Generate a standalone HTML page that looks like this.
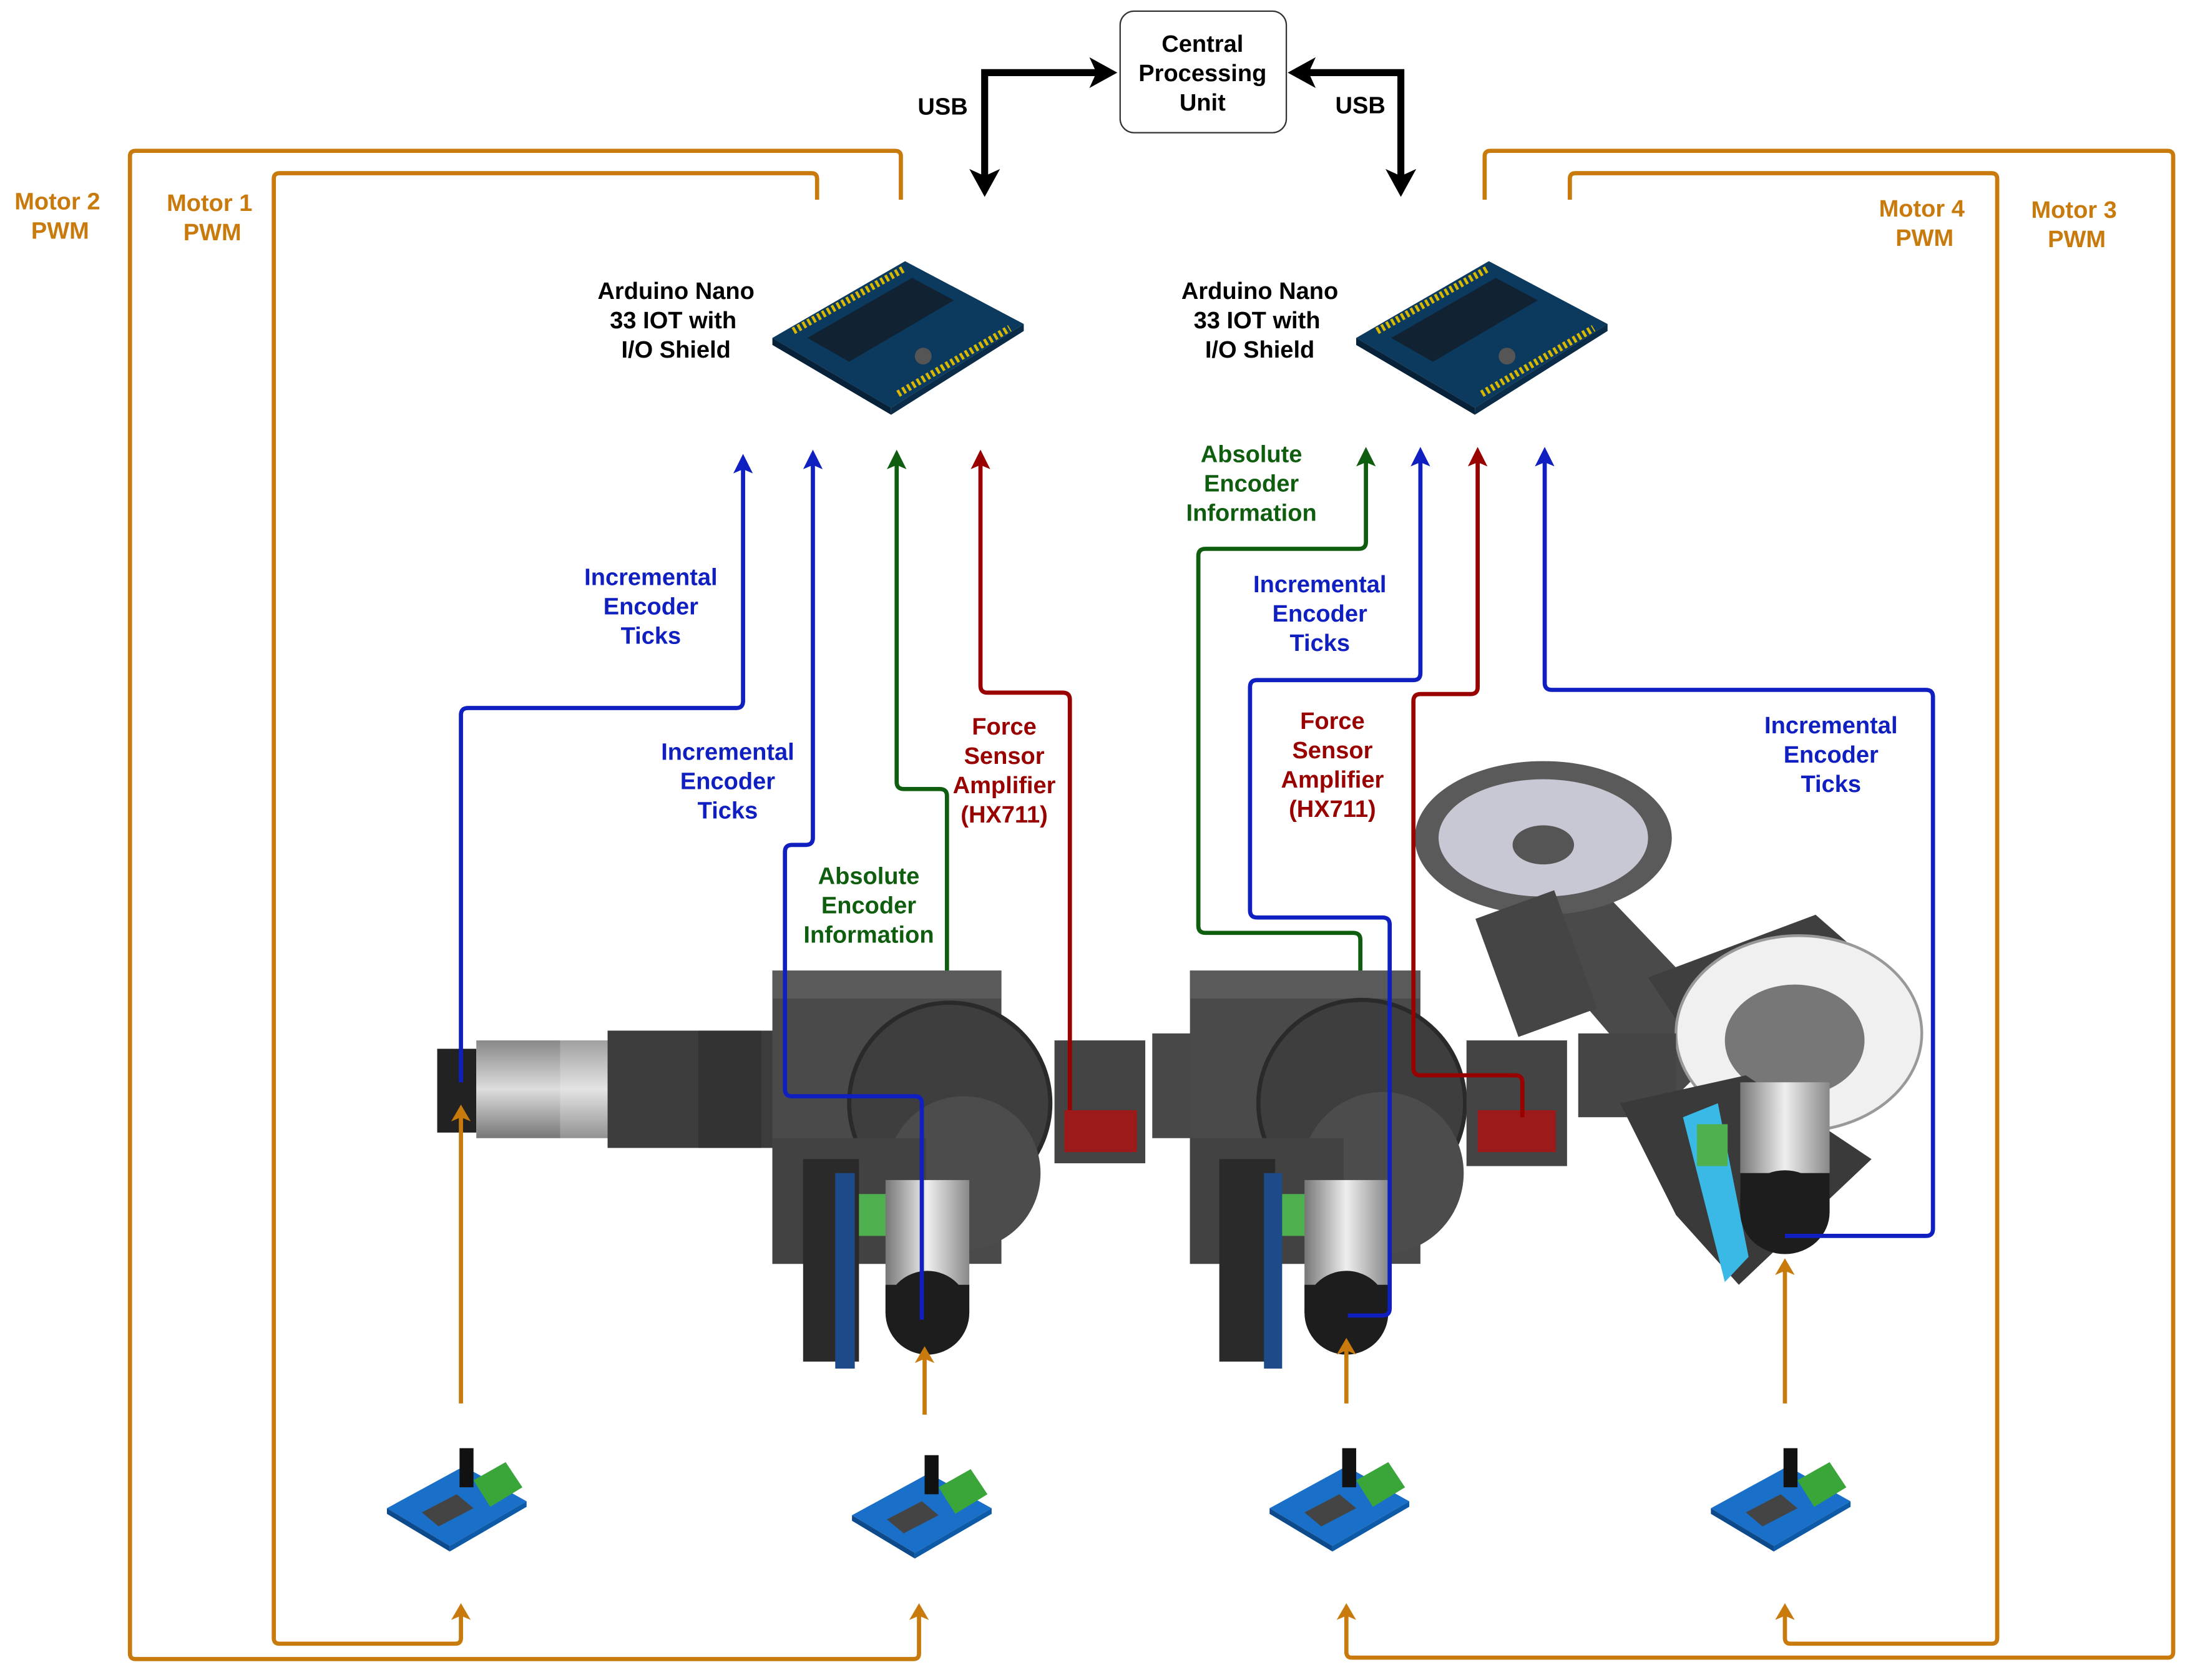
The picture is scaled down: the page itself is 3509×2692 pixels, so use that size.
<!DOCTYPE html>
<html><head><meta charset="utf-8"><style>
html,body{margin:0;padding:0;background:#fff;}
svg{display:block;}
text{font-family:"Liberation Sans",sans-serif;font-weight:bold;font-size:17px;text-anchor:middle;}
</style></head><body>
<svg width="3509" height="2692" viewBox="0 0 1568 1203" xmlns="http://www.w3.org/2000/svg">
<defs>
<marker id="ao" markerWidth="12" markerHeight="14" refX="8" refY="7" orient="auto" markerUnits="userSpaceOnUse" viewBox="0 0 12 14"><path d="M0,0 L12,7 L0,14 L3,7z" fill="#c97a0c"/></marker>
<marker id="ab" markerWidth="14" markerHeight="14" refX="9" refY="7" orient="auto" markerUnits="userSpaceOnUse" viewBox="0 0 14 14"><path d="M0,0 L14,7 L0,14 L3,7z" fill="#1020c0"/></marker>
<marker id="ag" markerWidth="14" markerHeight="14" refX="9" refY="7" orient="auto" markerUnits="userSpaceOnUse" viewBox="0 0 14 14"><path d="M0,0 L14,7 L0,14 L3,7z" fill="#0f5e0f"/></marker>
<marker id="ar" markerWidth="14" markerHeight="14" refX="9" refY="7" orient="auto" markerUnits="userSpaceOnUse" viewBox="0 0 14 14"><path d="M0,0 L14,7 L0,14 L3,7z" fill="#990000"/></marker>
<marker id="ak" markerWidth="20" markerHeight="22" refX="12" refY="11" orient="auto" markerUnits="userSpaceOnUse" viewBox="0 0 20 22"><path d="M0,0 L20,11 L0,22 L5,11z" fill="#000"/></marker>
<marker id="aks" markerWidth="20" markerHeight="22" refX="12" refY="11" orient="auto-start-reverse" markerUnits="userSpaceOnUse" viewBox="0 0 20 22"><path d="M0,0 L20,11 L0,22 L5,11z" fill="#000"/></marker>
<linearGradient id="cyl" x1="0" x2="1"><stop offset="0" stop-color="#777"/><stop offset="0.5" stop-color="#eee"/><stop offset="1" stop-color="#888"/></linearGradient>
<linearGradient id="cyl2" x1="0" x2="0" y1="0" y2="1"><stop offset="0" stop-color="#888"/><stop offset="0.5" stop-color="#ddd"/><stop offset="1" stop-color="#777"/></linearGradient>
<g id="ard">
<polygon points="0,55 95,0 180,45 85,105" fill="#0c3a5e"/>
<polygon points="0,55 85,105 85,110 0,60" fill="#072238"/>
<polygon points="85,105 180,45 180,50 85,110" fill="#0a2c48"/>
<polygon points="25,55 100,12 130,28 55,72" fill="#123"/>
<line x1="15" y1="50" x2="95" y2="5" stroke="#d8b800" stroke-width="5" stroke-dasharray="2,2"/>
<line x1="90" y1="95" x2="170" y2="48" stroke="#d8b800" stroke-width="5" stroke-dasharray="2,2"/>
<circle cx="108" cy="68" r="6" fill="#555"/>
</g>
<g id="drv">
<polygon points="0,45 55,15 100,40 45,72" fill="#1a70c8"/>
<polygon points="0,45 45,72 45,76 0,49" fill="#0d4a8c"/>
<polygon points="45,72 100,40 100,44 45,76" fill="#0d5aa8"/>
<polygon points="62,25 85,12 97,30 74,44" fill="#3aa63a"/>
<rect x="52" y="2" width="10" height="28" fill="#111"/>
<polygon points="25,48 50,35 62,45 37,58" fill="#444"/>
</g>
</defs>

<!-- CPU -->
<rect x="802" y="8" width="119" height="87" rx="10" fill="#fff" stroke="#333" stroke-width="1"/>
<text x="861" y="37">Central</text>
<text x="861" y="58">Processing</text>
<text x="861" y="79">Unit</text>
<path d="M792,52 H705 V133" fill="none" stroke="#000" stroke-width="5" marker-start="url(#aks)" marker-end="url(#ak)"/>
<path d="M930,52 H1003 V133" fill="none" stroke="#000" stroke-width="5" marker-start="url(#aks)" marker-end="url(#ak)"/>
<text x="675" y="82">USB</text>
<text x="974" y="81">USB</text>

<!-- Orange PWM -->
<g fill="none" stroke="#c97a0c" stroke-width="3">
<path d="M645,143 V112 Q645,108 641,108 H97 Q93,108 93,112 V1184 Q93,1188 97,1188 H654 Q658,1188 658,1184 V1152" marker-end="url(#ao)"/>
<path d="M585,143 V128 Q585,124 581,124 H200 Q196,124 196,128 V1173 Q196,1177 200,1177 H326 Q330,1177 330,1173 V1152" marker-end="url(#ao)"/>
<path d="M1063,143 V112 Q1063,108 1067,108 H1552 Q1556,108 1556,112 V1183 Q1556,1187 1552,1187 H968 Q964,1187 964,1183 V1152" marker-end="url(#ao)"/>
<path d="M1124,143 V128 Q1124,124 1128,124 H1426 Q1430,124 1430,128 V1173 Q1430,1177 1426,1177 H1282 Q1278,1177 1278,1173 V1152" marker-end="url(#ao)"/>
</g>
<g fill="#c97a0c">
<text x="41" y="150">Motor 2</text><text x="43" y="171">PWM</text>
<text x="150" y="151">Motor 1</text><text x="152" y="172">PWM</text>
<text x="1376" y="155">Motor 4</text><text x="1378" y="176">PWM</text>
<text x="1485" y="156">Motor 3</text><text x="1487" y="177">PWM</text>
</g>

<!-- Arduinos -->
<text x="484" y="214">Arduino Nano</text><text x="482" y="235">33 IOT with</text><text x="484" y="256">I/O Shield</text>
<text x="902" y="214">Arduino Nano</text><text x="900" y="235">33 IOT with</text><text x="902" y="256">I/O Shield</text>
<use href="#ard" x="553" y="187"/>
<use href="#ard" x="971" y="187"/>

<!-- Mechanical -->
<rect x="313" y="751" width="28" height="60" fill="#222"/>
<rect x="341" y="745" width="60" height="70" fill="url(#cyl2)"/>
<rect x="400" y="745" width="40" height="70" fill="url(#cyl2)" opacity="0.8"/>
<rect x="435" y="738" width="120" height="84" fill="#3c3c3c"/>
<rect x="500" y="738" width="45" height="84" fill="#333"/>
<rect x="553" y="695" width="164" height="210" fill="#4a4a4a"/>
<rect x="553" y="695" width="164" height="20" fill="#5a5a5a"/>
<circle cx="680" cy="790" r="72" fill="#3e3e3e" stroke="#2a2a2a" stroke-width="3"/>
<circle cx="690" cy="840" r="55" fill="#4c4c4c"/>
<rect x="553" y="815" width="110" height="90" fill="#424242"/>
<rect x="575" y="830" width="40" height="145" fill="#2a2a2a"/>
<rect x="598" y="840" width="14" height="140" fill="#1d4b8a"/>
<rect x="615" y="855" width="22" height="30" fill="#4fb04f"/>
<rect x="755" y="745" width="65" height="88" fill="#444"/>
<rect x="762" y="795" width="52" height="30" fill="#9c1a1a"/>
<rect x="825" y="740" width="30" height="75" fill="#484848"/>
<rect x="852" y="695" width="165" height="210" fill="#4a4a4a"/>
<rect x="852" y="695" width="165" height="20" fill="#5a5a5a"/>
<circle cx="975" cy="790" r="74" fill="#3e3e3e" stroke="#2a2a2a" stroke-width="3"/>
<circle cx="990" cy="840" r="58" fill="#4c4c4c"/>
<rect x="852" y="815" width="110" height="90" fill="#424242"/>
<rect x="873" y="830" width="40" height="145" fill="#2a2a2a"/>
<rect x="905" y="840" width="13" height="140" fill="#1d4b8a"/>
<rect x="918" y="855" width="22" height="30" fill="#4fb04f"/>
<rect x="1050" y="745" width="72" height="90" fill="#444"/>
<rect x="1058" y="795" width="56" height="30" fill="#9c1a1a"/>
<!-- omni wheel + arm -->
<polygon points="1075,650 1140,630 1245,740 1195,790" fill="#4a4a4a"/>
<ellipse cx="1105" cy="600" rx="92" ry="55" fill="#5a5a5a"/>
<ellipse cx="1105" cy="600" rx="75" ry="42" fill="#c8c8d4"/>
<ellipse cx="1105" cy="605" rx="22" ry="14" fill="#555"/>
<rect x="1070" y="645" width="60" height="90" fill="#454545" transform="rotate(-20 1100 690)"/>
<polygon points="1180,700 1300,655 1340,690 1220,760" fill="#3f3f3f"/>
<ellipse cx="1288" cy="740" rx="88" ry="70" fill="#f0f0f0" stroke="#999" stroke-width="2"/>
<ellipse cx="1285" cy="745" rx="50" ry="40" fill="#777"/>
<rect x="1130" y="740" width="70" height="60" fill="#454545"/>
<polygon points="1160,790 1250,770 1340,830 1245,920 1200,870" fill="#3a3a3a"/>
<polygon points="1205,800 1230,790 1252,900 1235,918" fill="#3ab8e6"/>
<rect x="1215" y="805" width="22" height="30" fill="#4fb04f"/>
<!-- motor cylinders -->
<rect x="634" y="845" width="60" height="95" fill="url(#cyl)"/>
<ellipse cx="664" cy="940" rx="30" ry="30" fill="#1d1d1d"/>
<rect x="634" y="920" width="60" height="20" fill="#1d1d1d"/>
<rect x="934" y="845" width="60" height="95" fill="url(#cyl)"/>
<ellipse cx="964" cy="940" rx="30" ry="30" fill="#1d1d1d"/>
<rect x="934" y="920" width="60" height="20" fill="#1d1d1d"/>
<rect x="1246" y="775" width="64" height="80" fill="url(#cyl)"/>
<ellipse cx="1278" cy="868" rx="32" ry="30" fill="#1d1d1d"/>
<rect x="1246" y="840" width="64" height="28" fill="#1d1d1d"/>

<!-- Motor arrows up -->
<g stroke="#c97a0c" stroke-width="3" fill="none">
<path d="M330,1005 V795" marker-end="url(#ao)"/>
<path d="M662,1013 V968" marker-end="url(#ao)"/>
<path d="M964,1005 V962" marker-end="url(#ao)"/>
<path d="M1278,1005 V905" marker-end="url(#ao)"/>
</g>

<!-- Drivers -->
<use href="#drv" x="277" y="1035"/>
<use href="#drv" x="610" y="1040"/>
<use href="#drv" x="909" y="1035"/>
<use href="#drv" x="1225" y="1035"/>

<!-- Blue -->
<g fill="none" stroke="#1020c0" stroke-width="3">
<path d="M330,775 V512 Q330,507 335,507 H527 Q532,507 532,502 V330" marker-end="url(#ab)"/>
<path d="M660,945 V790 Q660,785 655,785 H567 Q562,785 562,780 V610 Q562,605 567,605 H577 Q582,605 582,600 V327" marker-end="url(#ab)"/>
<path d="M965,942 H990 Q995,942 995,937 V662 Q995,657 990,657 H900 Q895,657 895,652 V492 Q895,487 900,487 H1012 Q1017,487 1017,482 V325" marker-end="url(#ab)"/>
<path d="M1278,885 H1379 Q1384,885 1384,880 V499 Q1384,494 1379,494 H1111 Q1106,494 1106,489 V325" marker-end="url(#ab)"/>
</g>
<g fill="#1020c0">
<text x="466" y="419">Incremental</text><text x="466" y="440">Encoder</text><text x="466" y="461">Ticks</text>
<text x="521" y="544">Incremental</text><text x="521" y="565">Encoder</text><text x="521" y="586">Ticks</text>
<text x="945" y="424">Incremental</text><text x="945" y="445">Encoder</text><text x="945" y="466">Ticks</text>
<text x="1311" y="525">Incremental</text><text x="1311" y="546">Encoder</text><text x="1311" y="567">Ticks</text>
</g>
<!-- Green -->
<g fill="none" stroke="#0f5e0f" stroke-width="3">
<path d="M678,695 V570 Q678,565 673,565 H647 Q642,565 642,560 V327" marker-end="url(#ag)"/>
<path d="M974,695 V673 Q974,668 969,668 H863 Q858,668 858,663 V398 Q858,393 863,393 H973 Q978,393 978,388 V325" marker-end="url(#ag)"/>
</g>
<g fill="#0f5e0f">
<text x="622" y="633">Absolute</text><text x="622" y="654">Encoder</text><text x="622" y="675">Information</text>
<text x="896" y="331">Absolute</text><text x="896" y="352">Encoder</text><text x="896" y="373">Information</text>
</g>
<!-- Red -->
<g fill="none" stroke="#990000" stroke-width="3">
<path d="M766,795 V501 Q766,496 761,496 H707 Q702,496 702,491 V327" marker-end="url(#ar)"/>
<path d="M1090,800 V775 Q1090,770 1085,770 H1017 Q1012,770 1012,765 V502 Q1012,497 1017,497 H1053 Q1058,497 1058,492 V325" marker-end="url(#ar)"/>
</g>
<g fill="#990000">
<text x="719" y="526">Force</text><text x="719" y="547">Sensor</text><text x="719" y="568">Amplifier</text><text x="719" y="589">(HX711)</text>
<text x="954" y="522">Force</text><text x="954" y="543">Sensor</text><text x="954" y="564">Amplifier</text><text x="954" y="585">(HX711)</text>
</g>
</svg>
</body></html>
